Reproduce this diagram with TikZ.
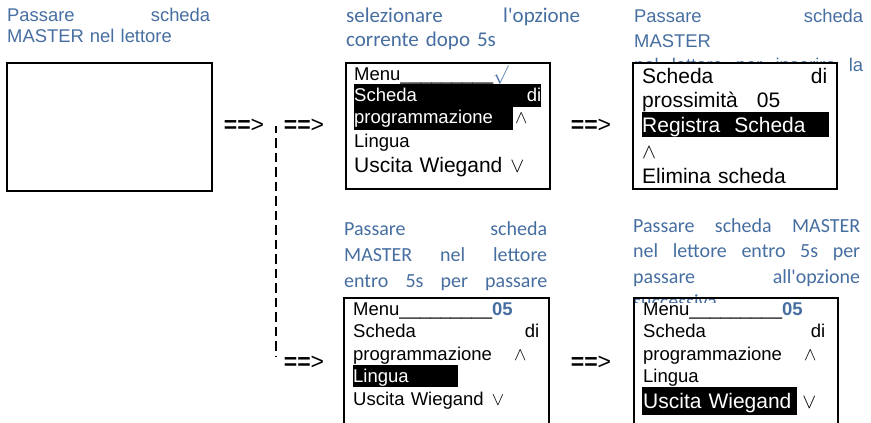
\documentclass[tikz,border=0pt]{standalone}
\usepackage{fix-cm}
\usepackage{fontspec}
\setmainfont{Liberation Sans}
\newfontfamily\notefont{Carlito}
\definecolor{notecol}{RGB}{70,110,160}

\tikzset{
  screen/.style={draw,line width=1.8pt,fill=white,anchor=north west,inner sep=0pt},
  note/.style={anchor=base west,inner sep=0pt,align=left,text=notecol},
  row/.style={anchor=base west,inner sep=0pt,text width=186pt,align=left,font=\fontsize{18.5}{22}\selectfont},
  bigrow/.style={row,font=\fontsize{21}{25}\selectfont},
  go/.style={inner sep=0pt,font=\fontsize{23}{23}\selectfont},
  branch/.style={line width=2.8pt,dash pattern=on 9.5pt off 5pt,dash phase=2.5pt}
}

\begin{document}
\begin{tikzpicture}[x=1pt,y=-1pt]
  \useasboundingbox (0,0) rectangle (871,423);

  % notes above the screens
  \node[note,text width=203pt,font=\fontsize{18.4}{21}\selectfont] (n1) at (7,21)
    {Passare\hfill scheda\\MASTER nel lettore};
  \node[note,text width=234pt,font=\notefont\fontsize{21}{24}\selectfont] (n2) at (346,23)
    {selezionare\hfill l'opzione\\corrente dopo 5s};
  \node[note,text width=229pt,font=\fontsize{18.4}{24.5}\selectfont] (n3) at (634,23)
    {Passare\hfill scheda\\MASTER\\nel\hfill lettore\hfill per\hfill inserire\hfill la};
  \node[note,text width=203pt,font=\notefont\fontsize{20}{26}\selectfont] (n4) at (344,235)
    {Passare\hfill scheda\\MASTER\hfill nel\hfill lettore\\entro\hfill 5s\hfill per\hfill passare};
  \node[note,text width=227pt,font=\notefont\fontsize{20}{25.5}\selectfont] (n5) at (633,232)
    {Passare\hfill scheda\hfill MASTER\\nel\hfill lettore\hfill entro\hfill 5s\hfill per\\passare\hfill all'opzione\\successiva};

  % screens
  \node[screen,minimum width=205pt,minimum height=128pt] (s1) at (6,62) {};
  \node[screen,minimum width=204pt,minimum height=126pt] (s2) at (345,62) {};
  \node[screen,minimum width=204pt,minimum height=126pt] (s3) at (632,62) {};
  \node[screen,minimum width=205pt,minimum height=140pt] (s4) at (343,297) {};
  \fill[white] (633,303) rectangle (837,440);
  \node[screen,fill=none,minimum width=204pt,minimum height=140pt] (s5) at (633,297) {};

  % selected entries
  \fill (354,84) rectangle (541,107);
  \fill (354,107) rectangle (513,130);
  \fill (642,112) rectangle (829,137);
  \fill (353,365) rectangle (458,387);
  \fill (642,387) rectangle (797,415);

  % screen 2
  \node[row] (r21) at (354,80) {Menu\_\_\_\_\_\_\_\_\_\textcolor{notecol}{$\surd$}};
  \node[row,text width=187pt,text=white] (r22) at (354,101) {Scheda\hfill di};
  \node[row,text=white] (r23) at (354,123) {programmazione\hspace{22pt}\textcolor{black}{$\wedge$}};
  \node[row] (r24) at (354,147) {Lingua};
  \node[bigrow] (r25) at (354,172) {Uscita Wiegand\hspace{8pt}$\vee$};

  % screen 3
  \node[bigrow,text width=185pt] (r31) at (642,83) {Scheda\hfill di};
  \node[bigrow] (r32) at (642,107) {prossimità\hspace{19pt}05};
  \node[bigrow,text=white] (r33) at (642,132) {Registra\ \ Scheda};
  \node[bigrow] (r34) at (642,158) {$\wedge$};
  \node[bigrow] (r35) at (642,183) {Elimina scheda};

  % screen 4
  \node[row] (r41) at (353,315) {Menu\_\_\_\_\_\_\_\_\_\textcolor{notecol}{\bfseries 05}};
  \node[row] (r42) at (353,337) {Scheda\hfill di};
  \node[row] (r43) at (353,360) {programmazione\hspace{22pt}$\wedge$};
  \node[row,text=white] (r44) at (353,382) {Lingua};
  \node[row] (r45) at (353,405) {Uscita Wiegand\hspace{8pt}$\vee$};

  % screen 5
  \node[row] (r51) at (643,315) {Menu\_\_\_\_\_\_\_\_\_\textcolor{notecol}{\bfseries 05}};
  \node[row,text width=182pt] (r52) at (643,337) {Scheda\hfill di};
  \node[row] (r53) at (643,360) {programmazione\hspace{22pt}$\wedge$};
  \node[row] (r54) at (643,382) {Lingua};
  \node[bigrow,text=white] (r55) at (643,408) {Uscita Wiegand\hspace{11pt}\textcolor{black}{$\vee$}};

  % arrows
  \node[go] (go1) at (244,126) {\textbf{==}>};
  \node[go] (go2) at (304,126) {\textbf{==}>};
  \node[go] (go3) at (304,363) {\textbf{==}>};
  \node[go] (go4) at (591,126) {\textbf{==}>};
  \node[go] (go5) at (591,363) {\textbf{==}>};
  \coordinate (fork) at (276,126);
  \draw[branch] (fork) -- (fork |- go3.north);
\end{tikzpicture}
\end{document}
